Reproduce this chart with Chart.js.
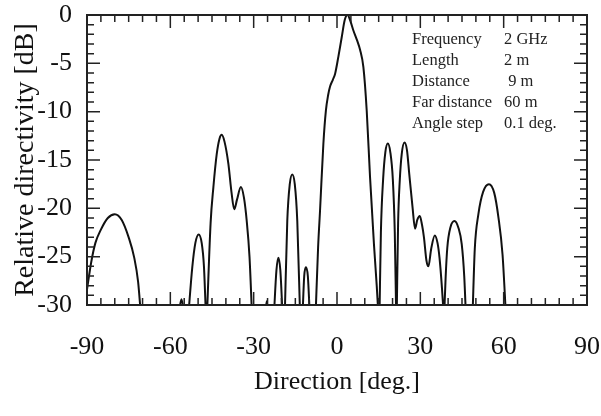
<!DOCTYPE html>
<html>
<head>
<meta charset="utf-8">
<script src="https://cdn.jsdelivr.net/npm/chart.js@4/dist/chart.umd.min.js"></script>
<style>
  body { margin: 0; background: #fff; }
  canvas { display: block; }
</style>
</head>
<body>
<canvas id="directivityChart" width="601" height="416"></canvas>
<script>
// direction [deg.] and relative directivity [dB]
// null = curve drops below -30 dB (gap between lobes)
const angles = [
  -90, -88.5, -87, -85, -82.5, -80, -77.5, -75, -73, -71.6, -70.6, -64,
  -57, -56, -55, -54.2,
  -53.5, -52.1, -51, -49.8, -48.7, -47.9, -47.2, -47,
  -46.8, -45.5, -44.5, -43.3, -42.3, -41.5, -40.5, -39.1, -38, -37, -36, -34.6, -33.5, -32.5, -31.5, -30.6, -28,
  -25.8, -25.3, -24.8, -23.5,
  -22.7, -21.8, -21.1, -20.4, -19.6, -19.2,
  -18.8, -17.9, -17.0, -16.1, -15.2, -14.3, -13.3, -12.8,
  -12.4, -11.8, -11.2, -10.5, -9.8, -8.7,
  -7.7, -6.8, -6.1, -4.9, -4.0, -3.2, -2.5, -1.5, -0.7, 0.5, 1.7, 2.8, 3.8, 4.8, 5.9, 7.2, 8.3, 9.5, 10.7, 11.9, 13.3, 14.3, 14.9, 15.1,
  15.3, 15.8, 16.6, 17.4, 18.3, 19.2, 20.1, 20.8, 21.3, 21.4,
  21.5, 22.0, 22.6, 23.3, 24.3, 25.2, 26.0, 27.2, 28.1, 28.9, 29.8, 30.6, 31.3, 32.2, 32.9, 33.9, 35.2, 36.2, 36.9, 37.8, 38.4, 38.5,
  38.6, 39.1, 39.7, 40.9, 42.3, 43.7, 44.9, 45.8, 46.4, 47.5,
  48.8, 49.6, 50.9, 52.6, 54.7, 56.6, 58.1, 59.6, 60.8
];
const levels = [
  -28.4, -25.6, -23.6, -22.2, -21.0, -20.6, -21.2, -23.0, -25.1, -27.6, -31, null,
  -31, -29.4, -31, null,
  -31, -26.1, -23.6, -22.7, -23.6, -26.0, -31, null,
  -31, -21.5, -17.8, -14.4, -12.8, -12.4, -13.1, -15.4, -18.3, -20.1, -19.1, -17.8, -18.9, -21.3, -25.0, -31, null,
  -31, -29.6, -31, null,
  -31, -26.4, -25.1, -26.4, -31, null,
  -31, -21.3, -17.5, -16.5, -17.5, -21.3, -31, null,
  -31, -27.0, -26.1, -27.0, -31, null,
  -31, -24.0, -20.2, -13.3, -9.9, -8.3, -7.4, -6.7, -6.1, -4.3, -2.3, -0.5, 0, -0.6, -1.6, -2.6, -3.6, -5.4, -9.9, -16.8, -23.7, -28.0, -31, null,
  -31, -22.5, -17.0, -14.2, -13.3, -14.2, -17.0, -22.5, -31, null,
  -31, -21.5, -17.1, -14.4, -13.2, -14.0, -16.4, -19.9, -22.1, -21.2, -20.8, -21.7, -23.0, -25.4, -26.0, -24.2, -22.8, -23.6, -25.1, -28.3, -31, null,
  -31, -27.2, -24.1, -21.9, -21.3, -22.0, -23.7, -27.0, -31, null,
  -31, -24.2, -20.6, -18.3, -17.5, -18.4, -20.9, -24.8, -31
];

const xTicks = [-90, -60, -30, 0, 30, 60, 90];
const yTicks = [0, -5, -10, -15, -20, -25, -30];

const infoNames = ["Frequency", "Length", "Distance", "Far distance", "Angle step"];
const infoValues = ["2 GHz", "2 m", " 9 m", "60 m", "0.1 deg."];

const serif = "'Liberation Serif', 'Times New Roman', serif";
Chart.defaults.color = "#111";

// frame, inward tick marks on all four sides, and the parameter block
const frameAndTicks = {
  id: "frameAndTicks",
  afterDatasetsDraw(chart) {
    const { ctx, chartArea: a, scales: { x, y } } = chart;
    ctx.save();
    ctx.strokeStyle = "#222";
    ctx.lineWidth = 1.5;
    ctx.beginPath();
    for (let v = xTicks[0]; v <= xTicks[xTicks.length - 1]; v += 5) {
      const px = x.getPixelForValue(v);
      const len = xTicks.includes(v) ? 13 : 7;
      ctx.moveTo(px, a.bottom); ctx.lineTo(px, a.bottom - len);
      ctx.moveTo(px, a.top); ctx.lineTo(px, a.top + len);
    }
    for (let v = yTicks[yTicks.length - 1]; v <= yTicks[0]; v += 1) {
      const py = y.getPixelForValue(v);
      const len = yTicks.includes(v) ? 13 : 7;
      ctx.moveTo(a.left, py); ctx.lineTo(a.left + len, py);
      ctx.moveTo(a.right, py); ctx.lineTo(a.right - len, py);
    }
    ctx.stroke();
    ctx.lineWidth = 2;
    ctx.strokeRect(a.left, a.top, a.right - a.left, a.bottom - a.top);

    ctx.fillStyle = "#222";
    ctx.font = "16.5px " + serif;
    ctx.textBaseline = "middle";
    infoNames.forEach((name, i) => {
      const ly = 40 + i * 21;
      ctx.fillText(name, 412, ly);
      ctx.fillText(infoValues[i], 504, ly);
    });
    ctx.restore();
  }
};

// keep the plot box fixed: no extra padding for overhanging edge labels
function noPad(s) {
  s.paddingLeft = 0; s.paddingRight = 0; s.paddingTop = 0; s.paddingBottom = 0;
}

const ctx = document.getElementById("directivityChart").getContext("2d");
const chart = new Chart(ctx, {
  type: "line",
  data: {
    datasets: [{
      data: angles.map((a, i) => ({ x: a, y: levels[i] })),
      borderColor: "#111",
      borderWidth: 2,
      pointRadius: 0,
      fill: false,
      spanGaps: false,
      cubicInterpolationMode: "monotone",
      clip: 0
    }]
  },
  options: {
    responsive: false,
    animation: false,
    events: [],
    layout: { padding: { top: 15, right: 14, left: 0, bottom: 0 } },
    plugins: { legend: { display: false }, tooltip: { enabled: false } },
    scales: {
      x: {
        type: "linear",
        min: -90,
        max: 90,
        afterBuildTicks: s => { s.ticks = xTicks.map(v => ({ value: v })); },
        afterFit: s => { s.height = 111; noPad(s); },
        grid: { display: false, drawTicks: false },
        border: { display: false },
        ticks: { font: { family: serif, size: 26 }, padding: 27, maxRotation: 0 },
        title: {
          display: true,
          text: "Direction [deg.]",
          font: { family: serif, size: 26 },
          padding: { top: 0, bottom: 18 }
        }
      },
      y: {
        type: "linear",
        min: -30,
        max: 0,
        afterBuildTicks: s => { s.ticks = yTicks.map(v => ({ value: v })); },
        afterFit: s => { s.width = 87; noPad(s); },
        grid: { display: false, drawTicks: false },
        border: { display: false },
        ticks: { font: { family: serif, size: 26 }, padding: 15 },
        title: {
          display: true,
          text: "Relative directivity [dB]",
          font: { family: serif, size: 28 },
          padding: { top: 9, bottom: 0 }
        }
      }
    }
  },
  plugins: [frameAndTicks]
});
</script>
</body>
</html>
